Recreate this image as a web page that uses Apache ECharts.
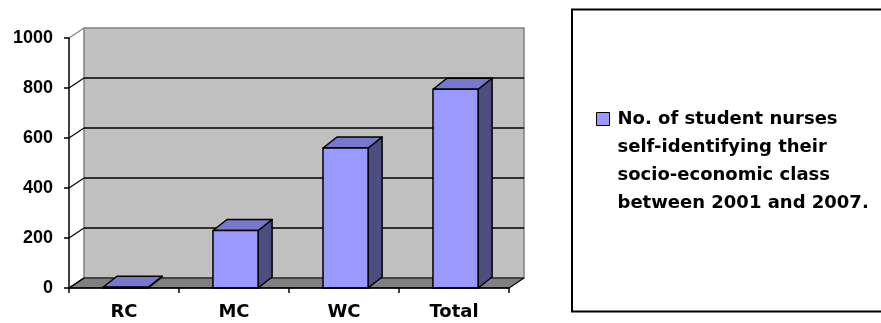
<!DOCTYPE html>
<html>
<head>
<meta charset="utf-8">
<script src="https://cdn.jsdelivr.net/npm/echarts@6/dist/echarts.min.js"></script>
<style>
html,body{margin:0;padding:0;background:#fff;}
#chart{width:881px;height:323px;}
</style>
</head>
<body>
<div id="chart"></div>
<script>
const categories = ['RC', 'MC', 'WC', 'Total'];
const values = [3, 230, 560, 795];
const yTicks = [0, 200, 400, 600, 800, 1000];
const seriesName = 'No. of student nurses\nself-identifying their\nsocio-economic class\nbetween 2001 and 2007.';

const FONT = '"Liberation Sans", Arial, sans-serif';
const WIDE_FONT = '"DejaVu Sans", "Liberation Sans", sans-serif';
const WALL_DX = 15, WALL_DY = -10;
const BAR_DX = 14, BAR_DY = -11;

const chart = echarts.init(document.getElementById('chart'), null, {renderer: 'canvas'});

function renderWall(params, api) {
  const cs = params.coordSys;
  const x0 = cs.x, x1 = cs.x + cs.width;
  const y0 = api.coord([0, yTicks[0]])[1];
  const yTop = api.coord([0, yTicks[yTicks.length - 1]])[1];
  const children = [];
  children.push({
    type: 'rect',
    shape: {x: x0 + WALL_DX, y: yTop + WALL_DY, width: x1 - x0, height: y0 - yTop},
    style: {fill: '#C0C0C0', stroke: '#808080', lineWidth: 1.5}
  });
  children.push({
    type: 'polygon',
    shape: {points: [[x0, y0], [x0 + WALL_DX, y0 + WALL_DY], [x1 + WALL_DX, y0 + WALL_DY], [x1, y0]]},
    style: {fill: '#808080', stroke: '#000', lineWidth: 1.2, lineJoin: 'round'}
  });
  yTicks.forEach(function (v) {
    const y = api.coord([0, v])[1];
    if (v !== yTicks[0] && v !== yTicks[yTicks.length - 1]) {
      children.push({
        type: 'line',
        shape: {x1: x0 + WALL_DX, y1: y + WALL_DY, x2: x1 + WALL_DX, y2: y + WALL_DY},
        style: {stroke: '#000', lineWidth: 1.5}
      });
    }
    children.push({
      type: 'line',
      shape: {x1: x0, y1: y, x2: x0 + WALL_DX, y2: y + WALL_DY},
      style: {stroke: v === yTicks[yTicks.length - 1] ? '#808080' : '#000', lineWidth: 1.2}
    });
  });
  return {type: 'group', children: children};
}

function renderBar(params, api) {
  const idx = api.value(0);
  const v = api.value(1);
  const top = api.coord([idx, v]);
  const base = api.coord([idx, 0]);
  const band = api.size([1, 0])[0];
  const w = band * 0.41;
  const off = band * 0.014;
  const L = top[0] - w / 2 + off, R = L + w, T = top[1], B = base[1];
  const stroke = {stroke: '#000', lineWidth: 1.5, lineJoin: 'round'};
  return {
    type: 'group',
    children: [
      {type: 'polygon', shape: {points: [[R, T], [R + BAR_DX, T + BAR_DY], [R + BAR_DX, B + BAR_DY], [R, B]]},
        style: Object.assign({fill: '#4D4D80'}, stroke)},
      {type: 'polygon', shape: {points: [[L, T], [L + BAR_DX, T + BAR_DY], [R + BAR_DX, T + BAR_DY], [R, T]]},
        style: Object.assign({fill: '#7777CC'}, stroke)},
      {type: 'rect', shape: {x: L, y: T, width: w, height: B - T},
        style: Object.assign({fill: '#9999FF'}, stroke)}
    ]
  };
}

const option = {
  animation: false,
  backgroundColor: '#fff',
  grid: {left: 69, right: 372, top: 38, bottom: 35, containLabel: false},
  legend: {
    data: [seriesName],
    left: 596,
    top: 21,
    padding: 0,
    orient: 'vertical',
    icon: 'rect',
    itemWidth: 13,
    itemHeight: 13,
    itemStyle: {color: '#9999FF', borderColor: '#000', borderWidth: 1},
    formatter: function (name) { return '\n\n\n' + name; },
    textStyle: {fontFamily: WIDE_FONT, fontWeight: 'bold', fontSize: 18, color: '#000', lineHeight: 28, padding: [0, 0, 0, 3]}
  },
  graphic: [{
    type: 'rect',
    shape: {x: 572, y: 9.5, width: 340, height: 302},
    style: {fill: 'none', stroke: '#000', lineWidth: 2},
    z: 100
  }],
  xAxis: {
    type: 'category',
    data: categories,
    z: 10,
    axisLine: {lineStyle: {color: '#000', width: 1.5}},
    axisTick: {show: true, length: 5, lineStyle: {color: '#000', width: 1.5}},
    axisLabel: {fontFamily: WIDE_FONT, fontWeight: 'bold', fontSize: 18, color: '#000', margin: 15},
    splitLine: {show: false}
  },
  yAxis: {
    type: 'value',
    min: yTicks[0],
    max: yTicks[yTicks.length - 1],
    interval: 200,
    z: 10,
    axisLine: {show: true, lineStyle: {color: '#000', width: 1.5}},
    axisTick: {show: true, length: 5, lineStyle: {color: '#000', width: 1.5}},
    axisLabel: {fontFamily: FONT, fontWeight: 'bold', fontSize: 18, color: '#000', margin: 16,
      formatter: function (v) { return String(v); }},
    splitLine: {show: false}
  },
  series: [
    {
      name: 'wall',
      type: 'custom',
      renderItem: renderWall,
      data: [[0, 0]],
      encode: {x: 0, y: 1},
      z: 1,
      silent: true
    },
    {
      name: seriesName,
      type: 'custom',
      renderItem: renderBar,
      itemStyle: {color: '#9999FF'},
      data: categories.map(function (c, i) { return [i, values[i]]; }),
      encode: {x: 0, y: 1},
      z: 5
    }
  ]
};
chart.setOption(option);
</script>
</body>
</html>
